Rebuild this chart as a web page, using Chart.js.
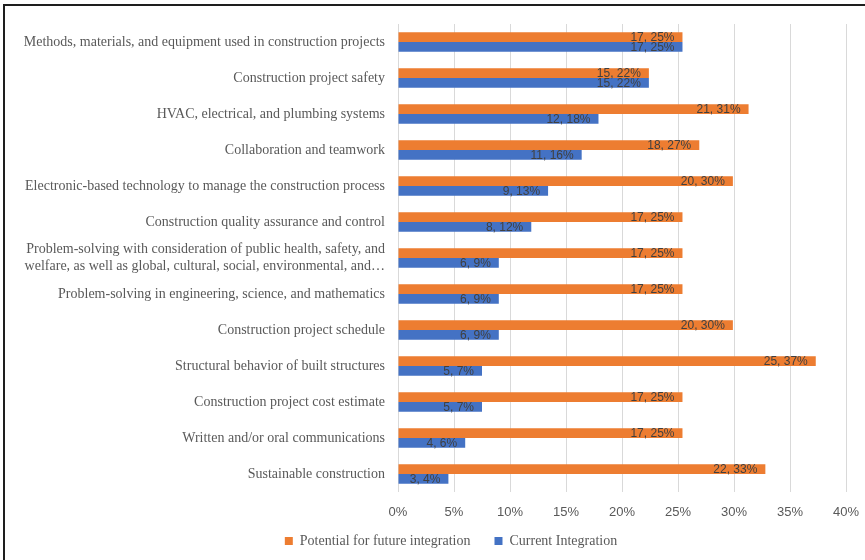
<!DOCTYPE html>
<html>
<head>
<meta charset="utf-8">
<script src="https://cdn.jsdelivr.net/npm/chart.js@4"></script>
<style>
  html, body { margin: 0; padding: 0; background: #fff; overflow: hidden; }
  #wrap { position: relative; width: 865px; height: 560px; }
  #frame { position: absolute; left: 3px; top: 4px; width: 880px; height: 580px;
           border-top: 2px solid #1e1e1e; border-left: 2px solid #1e1e1e; pointer-events: none; }
</style>
</head>
<body>
<div id="wrap">
  <canvas id="myChart" width="865" height="560"></canvas>
  <div id="frame"></div>
</div>
<script>
// categories, top to bottom
const categories = [
    'Methods, materials, and equipment used in construction projects',
    'Construction project safety',
    'HVAC, electrical, and plumbing systems',
    'Collaboration and teamwork',
    'Electronic-based technology to manage the construction process',
    'Construction quality assurance and control',
    ['Problem-solving with consideration of public health, safety, and', 'welfare, as well as global, cultural, social, environmental, and\u2026'],
    'Problem-solving in engineering, science, and mathematics',
    'Construction project schedule',
    'Structural behavior of built structures',
    'Construction project cost estimate',
    'Written and/or oral communications',
    'Sustainable construction'
];

// respondent counts as printed in the labels
const futureCounts = [17, 15, 21, 18, 20, 17, 17, 17, 20, 25, 17, 17, 22];
const currentCounts = [17, 15, 12, 11, 9, 8, 6, 6, 6, 5, 5, 4, 3];

// bar lengths in percent
const futurePct = [25.4, 22.4, 31.3, 26.9, 29.9, 25.4, 25.4, 25.4, 29.9, 37.3, 25.4, 25.4, 32.8];
const currentPct = [25.4, 22.4, 17.9, 16.4, 13.4, 11.9, 9.0, 9.0, 9.0, 7.5, 7.5, 6.0, 4.5];

// printed percent labels
const futureLabels = ['25%', '22%', '31%', '27%', '30%', '25%', '25%', '25%', '30%', '37%', '25%', '25%', '33%'];
const currentLabels = ['25%', '22%', '18%', '16%', '13%', '12%', '9%', '9%', '9%', '7%', '7%', '6%', '4%'];

const xTicks = [0, 5, 10, 15, 20, 25, 30, 35, 40];

const serif = "'Liberation Serif', 'Times New Roman', serif";
const sans = "'Liberation Sans', Arial, sans-serif";

// draws "count, pct%" just inside the end of each bar
const barLabels = {
    id: 'barLabels',
    afterDatasetsDraw(chart) {
        const ctx = chart.ctx;
        ctx.save();
        ctx.font = '12px ' + sans;
        ctx.fillStyle = '#404040';
        ctx.textAlign = 'right';
        ctx.textBaseline = 'middle';
        chart.data.datasets.forEach((ds, i) => {
            const meta = chart.getDatasetMeta(i);
            meta.data.forEach((bar, j) => {
                ctx.fillText(ds.counts[j] + ', ' + ds.pctLabels[j], bar.x - 8, bar.y + 1);
            });
        });
        ctx.restore();
    }
};

// nudge the legend so it sits a bit right of the canvas centre, like the original
const legendShift = {
    id: 'legendShift',
    afterLayout(chart) {
        chart.legend.left += 56;
    }
};

const ctx = document.getElementById('myChart').getContext('2d');
const myChart = new Chart(ctx, {
    type: 'bar',
    data: {
        labels: categories,
        datasets: [{
            label: 'Potential for future integration',
            data: futurePct,
            counts: futureCounts,
            pctLabels: futureLabels,
            backgroundColor: '#ED7D31',
            categoryPercentage: 0.54,
            barPercentage: 1
        }, {
            label: 'Current Integration',
            data: currentPct,
            counts: currentCounts,
            pctLabels: currentLabels,
            backgroundColor: '#4472C4',
            categoryPercentage: 0.54,
            barPercentage: 1
        }]
    },
    options: {
        indexAxis: 'y',
        responsive: false,
        animation: false,
        layout: { padding: { left: 0, right: 19, top: 24, bottom: 2 } },
        plugins: {
            tooltip: { enabled: false },
            legend: {
                position: 'bottom',
                labels: {
                    font: { family: serif, size: 14 },
                    color: '#595959',
                    boxWidth: 8,
                    boxHeight: 8,
                    padding: 10,
                    generateLabels: chart => {
                        const items = Chart.defaults.plugins.legend.labels.generateLabels(chart);
                        items[0].text += '\u2003';
                        return items;
                    }
                }
            }
        },
        scales: {
            x: {
                min: 0,
                max: 40,
                afterBuildTicks: axis => { axis.ticks = xTicks.map(v => ({ value: v })); },
                afterFit: axis => {
                    axis.height = 32;
                    axis.paddingLeft = 0;
                    axis.paddingRight = 0;
                },
                ticks: {
                    callback: v => v + '%',
                    font: { family: sans, size: 13 },
                    color: '#595959',
                    padding: 13
                },
                grid: { color: '#d9d9d9', drawTicks: false },
                border: { display: false }
            },
            y: {
                afterFit: axis => { axis.width = 398; },
                ticks: {
                    font: { family: serif, size: 14 },
                    color: '#595959',
                    padding: 5,
                    autoSkip: false
                },
                grid: { display: false },
                border: { display: false }
            }
        }
    },
    plugins: [barLabels, legendShift]
});
</script>
</body>
</html>
